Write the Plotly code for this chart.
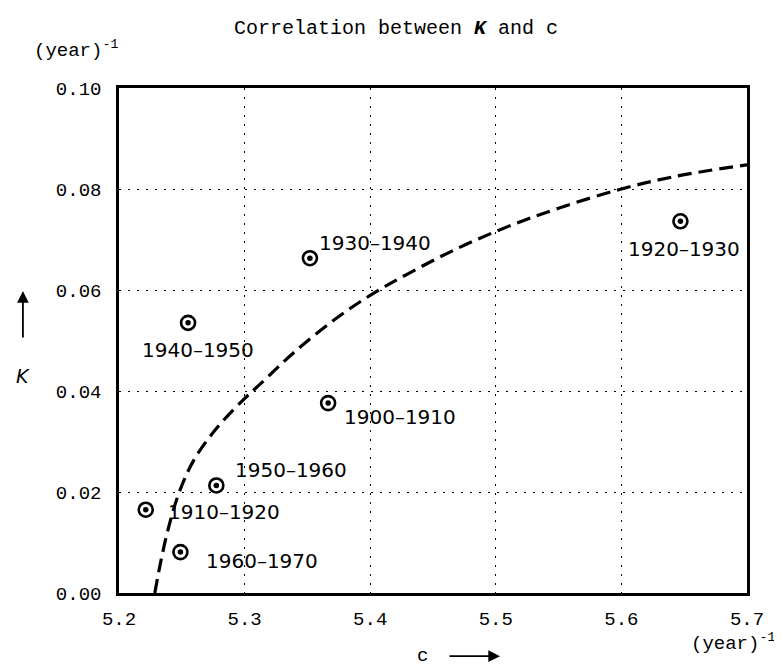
import plotly.graph_objects as go

# ---- data ----
periods = ["1900–1910", "1910–1920", "1920–1930", "1930–1940",
           "1940–1950", "1950–1960", "1960–1970"]
c_vals = [5.3665, 5.2213, 5.647, 5.352, 5.255, 5.2775, 5.2489]
k_vals = [0.0376, 0.0165, 0.0736, 0.0663, 0.0535, 0.0213, 0.0081]

curve_c = [5.2285, 5.2335, 5.2395, 5.248, 5.260, 5.279, 5.300, 5.313, 5.340,
           5.372, 5.401, 5.430, 5.470, 5.510, 5.550, 5.600, 5.643, 5.700]
curve_k = [0.0, 0.0065, 0.013, 0.020, 0.0265, 0.033, 0.0385, 0.0415, 0.0478,
           0.0542, 0.0591, 0.0632, 0.0683, 0.0726, 0.0762, 0.0800, 0.0825, 0.0848]

x_ticks = [5.2, 5.3, 5.4, 5.5, 5.6, 5.7]
x_tick_text = ["5.2", "5.3", "5.4", "5.5", "5.6", "5.7"]
y_ticks = [0.0, 0.02, 0.04, 0.06, 0.08, 0.10]
y_tick_text = ["0.00", "0.02", "0.04", "0.06", "0.08", "0.10"]

# label offsets (pixels) relative to each point
label_dx = [72, 78, 4, 65, 10, 75, 82]
label_dy = [-14, -2, -28, 15, -27, 15, -9]

MONO = "Liberation Mono"
SANS = "DejaVu Sans"

fig = go.Figure()
fig.add_trace(go.Scatter(
    x=curve_c, y=curve_k, mode="lines", line_shape="spline",
    line=dict(color="black", width=3.2, dash="14px,7px"),
    hoverinfo="skip", showlegend=False))
fig.add_trace(go.Scatter(
    x=c_vals, y=k_vals, mode="markers",
    marker=dict(symbol="circle-open", size=14, color="black",
                line=dict(color="black", width=2.6)),
    showlegend=False))
fig.add_trace(go.Scatter(
    x=c_vals, y=k_vals, mode="markers",
    marker=dict(symbol="circle", size=5.5, color="black"),
    showlegend=False))

for p, cx, ky, dx, dy in zip(periods, c_vals, k_vals, label_dx, label_dy):
    fig.add_annotation(x=cx, y=ky, xref="x", yref="y", text=p, showarrow=False,
                       xshift=dx, yshift=dy, xanchor="center", yanchor="middle",
                       font=dict(family=SANS, size=20, color="black"))

grid = dict(showgrid=True, gridcolor="black", gridwidth=1.3, griddash="1.5px,7.5px",
            showline=True, mirror=True, linecolor="black", linewidth=2.5,
            zeroline=False, ticks="", tickfont=dict(family=MONO, size=19, color="black"))

fig.update_xaxes(range=[5.2, 5.7], tickvals=x_ticks, ticktext=x_tick_text,
                 ticklabelstandoff=6, **grid)
fig.update_yaxes(range=[0, 0.1], tickvals=y_ticks, ticktext=y_tick_text,
                 ticklabelstandoff=11, **grid)

# title and axis captions
fig.add_annotation(xref="paper", yref="paper", x=0.5, y=1.0, xshift=-37, yshift=60,
                   xanchor="center", yanchor="middle",
                   text="Correlation between <i><b>K</b></i> and c", showarrow=False,
                   font=dict(family=MONO, size=20, color="black"))
fig.add_annotation(xref="paper", yref="paper", x=0, y=1.0, xshift=1, yshift=39,
                   xanchor="right", yanchor="middle",
                   text="(year)<sup>-1</sup>", showarrow=False,
                   font=dict(family=MONO, size=19, color="black"))
fig.add_annotation(xref="paper", yref="paper", x=1.0, y=0, xshift=30, yshift=-49,
                   xanchor="right", yanchor="middle",
                   text="(year)<sup>-1</sup>", showarrow=False,
                   font=dict(family=MONO, size=19, color="black"))
# c with arrow
fig.add_annotation(xref="paper", yref="paper", x=0.484, y=-0.125,
                   xanchor="center", yanchor="middle",
                   text="c", showarrow=False,
                   font=dict(family=MONO, size=19, color="black"))
fig.add_annotation(xref="paper", yref="paper", x=0.6067, y=-0.125,
                   text="", showarrow=True, ax=-52, ay=0,
                   arrowhead=2, arrowsize=1.3, arrowwidth=1.8, arrowcolor="black")
# K with arrow
fig.add_annotation(xref="paper", yref="paper", x=-0.153, y=0.598,
                   text="", showarrow=True, ax=0, ay=48,
                   arrowhead=2, arrowsize=1.3, arrowwidth=1.8, arrowcolor="black")
fig.add_annotation(xref="paper", yref="paper", x=-0.153, y=0.4297,
                   xanchor="center", yanchor="middle",
                   text="<i>K</i>", showarrow=False,
                   font=dict(family=SANS, size=19, color="black"))

fig.update_layout(width=782, height=668, plot_bgcolor="white", paper_bgcolor="white",
                  margin=dict(l=111, r=43, t=80, b=83), showlegend=False)

fig.write_html("out.html")
